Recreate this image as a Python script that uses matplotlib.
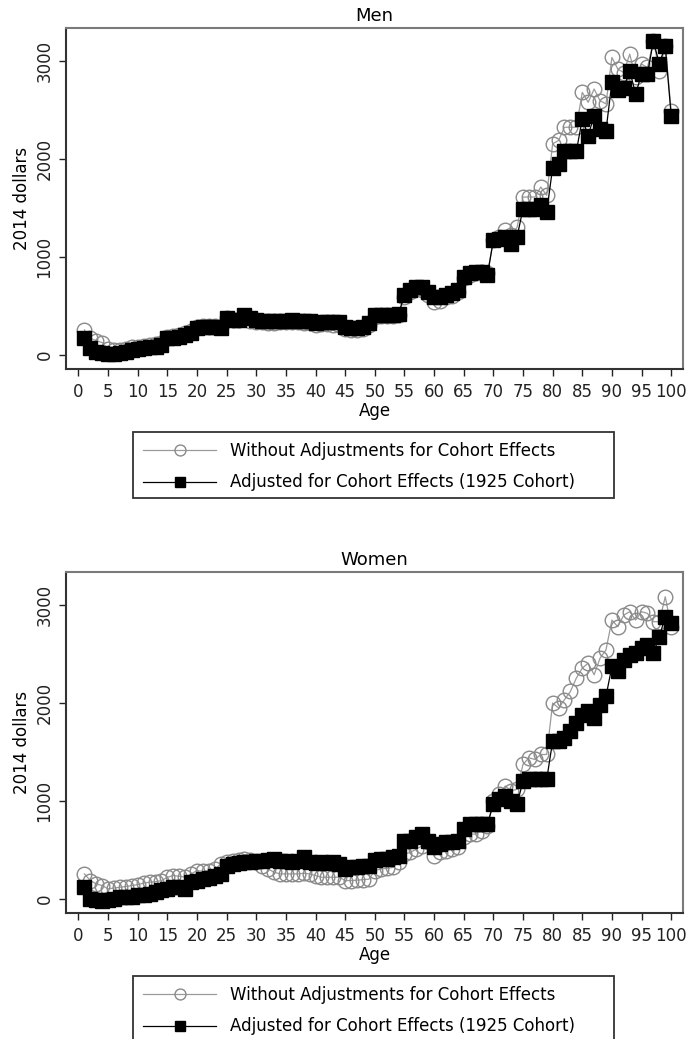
import matplotlib
matplotlib.use("Agg")
import matplotlib.pyplot as plt
import numpy as np
from matplotlib.patches import Rectangle

plt.rcParams["font.family"] = ["DejaVu Sans"]

ages = np.arange(1, 101)

men_unadjusted = [
    254, 169, 145, 125, 60, 45, 50, 60, 75, 85,
    95, 100, 110, 125, 185, 190, 205, 220, 240, 285,
    290, 295, 290, 285, 380, 360, 355, 390, 350, 335,
    330, 325, 325, 330, 330, 335, 330, 325, 320, 300,
    310, 310, 305, 300, 260, 250, 258, 268, 300, 390,
    395, 400, 400, 410, 590, 640, 668, 665, 610, 542,
    550, 585, 605, 640, 780, 815, 835, 850, 830, 1169,
    1200, 1270, 1220, 1300, 1610, 1610, 1610, 1712, 1627, 2153,
    2187, 2322, 2322, 2322, 2678, 2576, 2712, 2593, 2560, 3034,
    2915, 2880, 3068, 2831, 2966, 2932, 3204, 2898, 3153, 2492,
]
men_adjusted = [
    169, 67, 34, 17, 10, 10, 17, 34, 51, 55,
    67, 78, 85, 101, 169, 169, 186, 203, 220, 271,
    280, 285, 280, 271, 372, 356, 360, 407, 372, 356,
    350, 345, 345, 350, 350, 355, 350, 350, 345, 329,
    339, 339, 335, 330, 288, 271, 278, 288, 322, 407,
    407, 410, 410, 420, 610, 660, 688, 688, 644, 593,
    593, 610, 630, 660, 796, 830, 847, 847, 813, 1169,
    1186, 1200, 1135, 1203, 1491, 1491, 1491, 1525, 1458, 1910,
    1949, 2075, 2075, 2075, 2407, 2237, 2441, 2300, 2288, 2780,
    2705, 2720, 2898, 2661, 2865, 2870, 3200, 2970, 3150, 2441,
]
women_unadjusted = [
    254, 186, 152, 135, 101, 110, 118, 125, 135, 145,
    160, 169, 175, 185, 220, 237, 230, 220, 254, 288,
    280, 288, 300, 356, 373, 390, 396, 407, 400, 373,
    339, 305, 271, 254, 254, 254, 254, 260, 254, 237,
    220, 220, 220, 220, 186, 186, 190, 195, 200, 288,
    305, 310, 320, 373, 457, 474, 508, 542, 576, 440,
    474, 491, 508, 525, 627, 661, 661, 695, 746, 1000,
    1068, 1152, 1102, 1119, 1373, 1440, 1423, 1474, 1474, 1999,
    1949, 2034, 2118, 2254, 2356, 2407, 2288, 2458, 2542, 2847,
    2779, 2898, 2932, 2847, 2932, 2915, 2830, 2830, 3085, 2779,
]
women_adjusted = [
    118, 0, -17, -24, -10, 0, 17, 17, 17, 34,
    40, 51, 68, 85, 101, 118, 118, 101, 169, 180,
    203, 215, 237, 254, 339, 356, 365, 373, 373, 383,
    390, 396, 407, 390, 385, 373, 390, 424, 373, 365,
    373, 370, 373, 356, 305, 322, 322, 330, 335, 400,
    407, 407, 424, 440, 593, 593, 627, 661, 593, 525,
    559, 576, 576, 593, 712, 763, 763, 763, 763, 966,
    1017, 1051, 1000, 966, 1203, 1220, 1220, 1220, 1220, 1610,
    1610, 1644, 1712, 1797, 1881, 1915, 1847, 1983, 2068, 2373,
    2322, 2441, 2491, 2508, 2559, 2593, 2508, 2678, 2881, 2813,
]

label_unadj = "Without Adjustments for Cohort Effects"
label_adj = "Adjusted for Cohort Effects (1925 Cohort)"

W, H = 690, 1039
fig = plt.figure(figsize=(W / 100, H / 100), dpi=100)

# axes rect, legend box (left, top, right, bottom in pixels)
panels = [
    ("Men", men_unadjusted, men_adjusted, [0.0957, 0.6448, 0.8942, 0.3283], (133, 432, 614, 498)),
    ("Women", women_unadjusted, women_adjusted, [0.0957, 0.1213, 0.8942, 0.3279], (133, 976, 614, 1042)),
]

for title, unadj, adj, rect, box in panels:
    ax = fig.add_axes(rect)
    ax.plot(ages, unadj, color="#9a9a9a", linewidth=0.9, marker="o", markersize=10.5,
            markerfacecolor="none", markeredgecolor="#8a8a8a", markeredgewidth=1.0,
            label=label_unadj)
    ax.plot(ages, adj, color="black", linewidth=0.9, marker="s", markersize=9.5,
            markerfacecolor="black", markeredgecolor="black", label=label_adj)
    ax.set_xlim(-2.1, 102.0)
    ax.set_ylim(-145, 3335)
    ax.set_xticks(np.arange(0, 101, 5))
    ax.set_yticks([0, 1000, 2000, 3000])
    ax.tick_params(axis="both", direction="out", length=5, width=1.0, labelsize=12, colors="#222222")
    ax.tick_params(axis="x", pad=5)
    ax.tick_params(axis="y", pad=4)
    for lbl in ax.get_yticklabels():
        lbl.set_rotation(90)
        lbl.set_va("center")
    ax.set_xlabel("Age", fontsize=12, labelpad=1)
    ax.set_ylabel("2014 dollars", fontsize=12, labelpad=3)
    ax.set_title(title, fontsize=13, pad=5)
    for side in ("left", "bottom"):
        ax.spines[side].set_color("#333333")
        ax.spines[side].set_linewidth(1.5)
    for side in ("top", "right"):
        ax.spines[side].set_color("#7a7a7a")
        ax.spines[side].set_linewidth(1.5)

    left, top, right, bottom = box
    fig.patches.append(Rectangle((left / W, 1 - bottom / H), (right - left) / W, (bottom - top) / H,
                                 transform=fig.transFigure, fill=False, edgecolor="#333333",
                                 linewidth=1.3))
    handles, labels = ax.get_legend_handles_labels()
    fig.legend(handles, labels, loc="upper left", bbox_to_anchor=(left / W, 1 - top / H),
               fontsize=12, frameon=False, handlelength=4.4, markerscale=0.75,
               borderpad=0.6, labelspacing=0.8, handletextpad=0.85, borderaxespad=0)

fig.savefig("out.png", dpi=100)
